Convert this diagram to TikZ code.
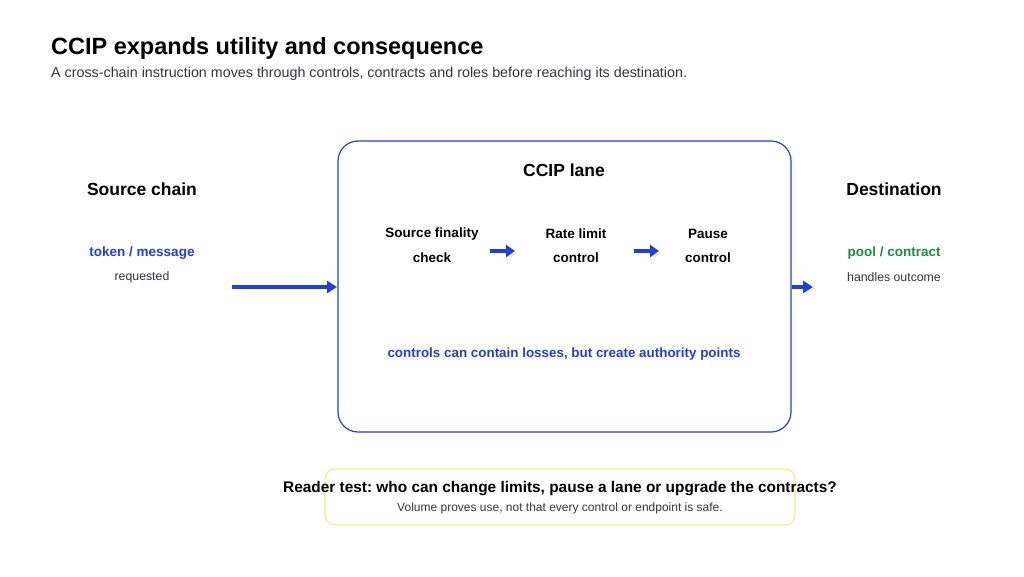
\documentclass[tikz,border=0pt]{standalone}
\usepackage{fontspec}
\setmainfont{Liberation Sans}
\usetikzlibrary{arrows.meta}
\definecolor{bl}{HTML}{1F3FE0}
\definecolor{gr}{HTML}{1E8A4A}
\definecolor{tx}{HTML}{333344}
\definecolor{yl}{HTML}{F2EC8A}
\frenchspacing
\begin{document}
\begin{tikzpicture}[x=1pt,y=-1pt,
  lbl/.style={font=\bfseries\fontsize{13.5}{15}\selectfont,text=black,align=center},
  arr/.style={-{Triangle[length=10pt,width=12pt]},line width=4.5pt,bl},
  sarr/.style={-{Triangle[length=9pt,width=12pt]},line width=3.5pt,bl}]
\useasboundingbox (0,0) rectangle (1024,576);
\node[anchor=base west,inner sep=0pt,font=\bfseries\fontsize{23.5}{26}\selectfont] (title) at (51,54) {CCIP expands utility and consequence};
\node[anchor=base west,inner sep=0pt,font=\fontsize{14.3}{16}\selectfont,text=tx] (sub) at (51,77) {A cross-chain instruction moves through controls, contracts and roles before reaching its destination.};
\draw[bl,line width=1.2pt,rounded corners=20pt] (338,141) rectangle (791,432);
\node[font=\bfseries\fontsize{17.5}{18}\selectfont] (lane) at (564,170) {CCIP lane};
\node[font=\bfseries\fontsize{17.5}{18}\selectfont] (src) at (142,189) {Source chain};
\node[font=\bfseries\fontsize{17.5}{18}\selectfont] (dst) at (894,189) {Destination};
\node[font=\bfseries\fontsize{13.5}{14}\selectfont,text=bl] (tm) at (142,253) {token / message};
\node[font=\fontsize{12.3}{13}\selectfont,text=tx] (rq) at (142,277) {requested};
\node[font=\bfseries\fontsize{13.5}{14}\selectfont,text=gr] (pc) at (894,253) {pool / contract};
\node[font=\fontsize{12.3}{13}\selectfont,text=tx] (ho) at (894,277) {handles outcome};
\node[lbl] (s1) at (432,234) {Source finality};
\node[lbl] (s1b) at (432,258) {check};
\node[lbl] (s2) at (576,234) {Rate limit};
\node[lbl] (s2b) at (576,258) {control};
\node[lbl] (s3) at (708,234) {Pause};
\node[lbl] (s3b) at (708,258) {control};
\coordinate (a1) at (490,251); \coordinate (a2) at (515,251);
\coordinate (b1) at (634,251); \coordinate (b2) at (659,251);
\draw[sarr] (a1) -- (a2);
\draw[sarr] (b1) -- (b2);
\coordinate (l1) at (232,287); \coordinate (l2) at (337,287);
\coordinate (r1) at (792,287); \coordinate (r2) at (813,287);
\draw[arr] (l1) -- (l2);
\draw[arr] (r1) -- (r2);
\node[font=\bfseries\fontsize{13.4}{14}\selectfont,text=bl] (note) at (564,354) {controls can contain losses, but create authority points};
\draw[yl,line width=1.2pt,rounded corners=10pt] (325,469) rectangle (795,525);
\node[font=\bfseries\fontsize{15.4}{16}\selectfont] (q) at (560,489) {Reader test: who can change limits, pause a lane or upgrade the contracts?};
\node[font=\fontsize{12}{13}\selectfont,text=tx] (q2) at (560,508) {Volume proves use, not that every control or endpoint is safe.};
\end{tikzpicture}
\end{document}
